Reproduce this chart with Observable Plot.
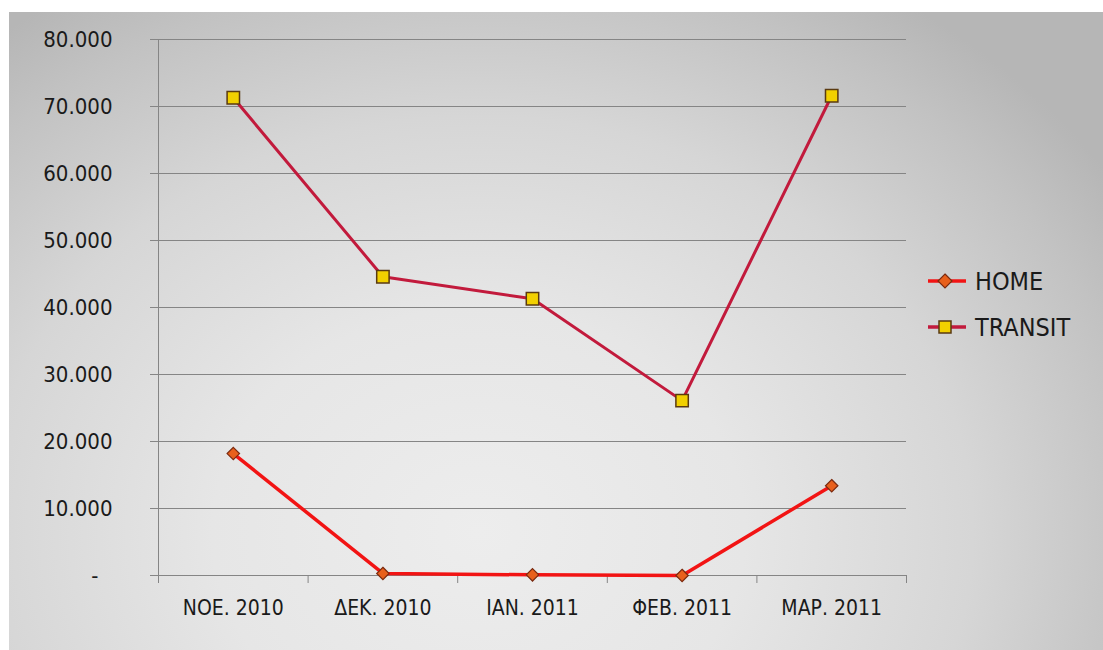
<!DOCTYPE html>
<html>
<head>
<meta charset="utf-8">
<script src="https://cdn.jsdelivr.net/npm/d3@7"></script>
<script src="https://cdn.jsdelivr.net/npm/@observablehq/plot@0.6"></script>
<style>
  body { margin: 0; background: #fff; }
  #wrap { position: relative; width: 1103px; height: 650px; overflow: hidden; }
  #bg { position: absolute; left: 9px; top: 12px; right: 0; bottom: 0;
        background: radial-gradient(ellipse 760px 640px at 470px 520px, #ededed 0%, #e6e6e6 35%, #d6d6d6 65%, #c2c2c2 88%, #b6b6b6 100%); }
  #chart { position: absolute; left: 0; top: 0; }
  #legend { position: absolute; left: 925px; top: 258px; font-family: "DejaVu Sans Condensed", "DejaVu Sans", sans-serif; font-size: 25px; color: #1a1a1a; }
  .row { display: flex; align-items: center; height: 46px; }
  .row svg { margin-right: 8px; }
</style>
</head>
<body>
<div id="wrap">
  <div id="bg"></div>
  <div id="chart"></div>
  <div id="legend"></div>
</div>
<script>
const categories = ["ΝΟΕ. 2010", "ΔΕΚ. 2010", "ΙΑΝ. 2011", "ΦΕΒ. 2011", "ΜΑΡ. 2011"];
const homeValues = [18200, 300, 100, 0, 13400];
const transitValues = [71300, 44600, 41300, 26100, 71600];
const yTicks = [0, 10000, 20000, 30000, 40000, 50000, 60000, 70000, 80000];
const seriesNames = ["HOME", "TRANSIT"];

const homeColor = "#f21414";
const transitColor = "#c21a3c";

const homeRows = categories.map((c, i) => ({i, c, v: homeValues[i]}));
const transitRows = categories.map((c, i) => ({i, c, v: transitValues[i]}));
const idx = categories.map((_, i) => i);
const boundaries = categories.map((_, i) => i - 0.5).concat([categories.length - 0.5]);
const fmt = d => d3.format(",")(d).replace(/,/g, ".");
const font = "DejaVu Sans Condensed, DejaVu Sans, sans-serif";

const chart = Plot.plot({
  width: 1103,
  height: 650,
  marginLeft: 158,
  marginRight: 197,
  marginTop: 39,
  marginBottom: 75,
  style: {background: "transparent", fontFamily: font, color: "#1a1a1a", overflow: "visible"},
  x: {type: "linear", domain: [-0.5, categories.length - 0.5]},
  y: {domain: [0, 80000]},
  marks: [
    Plot.ruleY(yTicks, {stroke: "#858585", strokeWidth: 1}),
    Plot.ruleX([-0.5], {y1: 0, y2: 80000, stroke: "#858585", strokeWidth: 1}),
    Plot.axisY(yTicks.filter(d => d > 0), {tickSize: 8, tickPadding: 38, tickFormat: fmt, fontSize: 22, stroke: "#858585", fill: "#1a1a1a", label: null}),
    Plot.axisY([0], {tickSize: 8, tickPadding: 52, tickFormat: () => "-", fontSize: 22, stroke: "#858585", fill: "#1a1a1a", label: null}),
    Plot.axisX(boundaries, {tickSize: 8, tickFormat: () => "", stroke: "#858585", label: null}),
    Plot.axisX(idx, {tickSize: 0, tickPadding: 25, tickFormat: i => categories[i], fontSize: 21, fill: "#1a1a1a", label: null}),
    Plot.line(transitRows, {x: "i", y: "v", stroke: transitColor, strokeWidth: 3}),
    Plot.line(homeRows, {x: "i", y: "v", stroke: homeColor, strokeWidth: 3.5}),
    Plot.dot(transitRows, {x: "i", y: "v", symbol: "square", r: 7, fill: "#f2d000", stroke: "#5a3a10", strokeWidth: 1.5}),
    Plot.dot(homeRows, {x: "i", y: "v", symbol: "diamond2", r: 5.6, fill: "#e8601c", stroke: "#7a2a10", strokeWidth: 1.2})
  ]
});
document.getElementById("chart").appendChild(chart);

// Legend
const legend = d3.select("#legend");
const specs = [
  {name: seriesNames[0], color: homeColor, kind: "diamond"},
  {name: seriesNames[1], color: transitColor, kind: "square"}
];
specs.forEach(s => {
  const row = legend.append("div").attr("class", "row");
  const svg = row.append("svg").attr("width", 42).attr("height", 20);
  svg.append("line").attr("x1", 3).attr("x2", 41).attr("y1", 10).attr("y2", 10)
    .attr("stroke", s.color).attr("stroke-width", 3.5);
  if (s.kind === "diamond") {
    svg.append("path").attr("d", "M20,3 L27,10 L20,17 L13,10 Z")
      .attr("fill", "#e8601c").attr("stroke", "#7a2a10").attr("stroke-width", 1.2);
  } else {
    svg.append("rect").attr("x", 14).attr("y", 4).attr("width", 12).attr("height", 12)
      .attr("fill", "#f2d000").attr("stroke", "#5a3a10").attr("stroke-width", 1.5);
  }
  row.append("span").text(s.name);
});
</script>
</body>
</html>
